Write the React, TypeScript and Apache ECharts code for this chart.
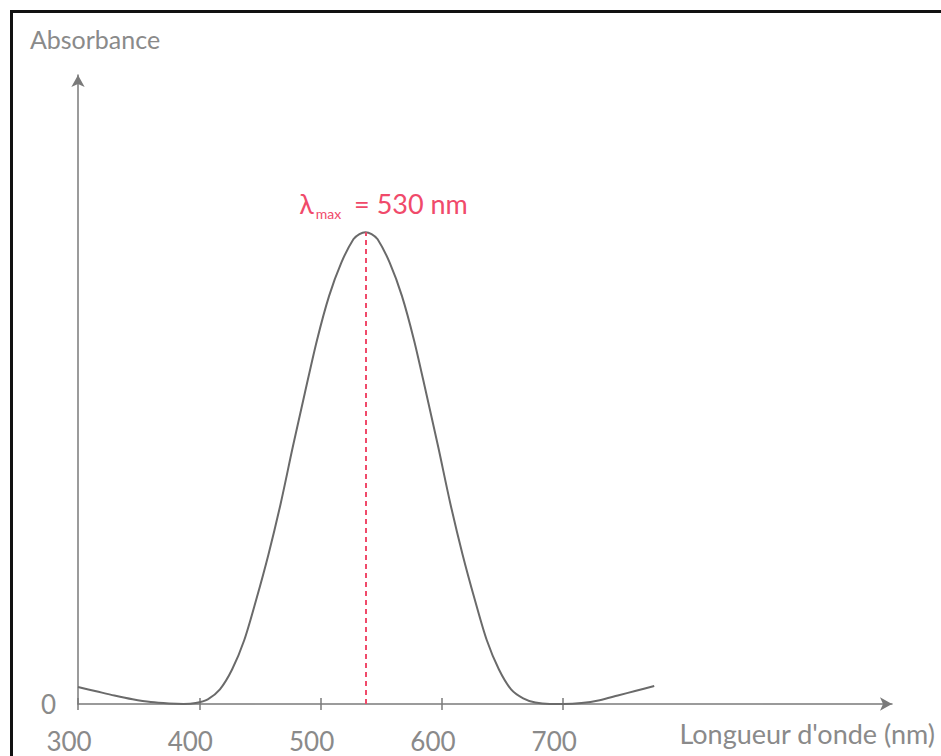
import React, { useEffect, useRef } from 'react';
import * as echarts from 'echarts';

// Wavelength (nm) and absorbance (arbitrary units, peak = 1)
const wavelengths = [
  300, 315, 330, 345, 360, 375, 387, 397, 407, 417, 427, 437, 447, 457, 467, 477, 487, 497,
  507, 517, 527, 532, 537, 542, 547, 557, 567, 577, 587, 597, 607, 617, 627, 637, 647, 657,
  667, 677, 689, 700, 715, 730, 745, 760, 775,
];
const absorbance = [
  0.036, 0.027, 0.018, 0.01, 0.004, 0.001, 0, 0.002, 0.01, 0.031, 0.073, 0.135, 0.222, 0.317,
  0.424, 0.544, 0.659, 0.771, 0.865, 0.935, 0.985, 0.996, 1.0, 0.996, 0.985, 0.935, 0.865,
  0.771, 0.659, 0.544, 0.424, 0.317, 0.222, 0.135, 0.073, 0.031, 0.012, 0.003, 0, 0, 0.002,
  0.008, 0.018, 0.028, 0.038,
];
const xTickValues = [300, 400, 500, 600, 700];
const yTickValues = [0];
const LAMBDA_MAX_LABEL = 530;
const X_NAME = "Longueur d'onde (nm)";
const Y_NAME = 'Absorbance';

export default function App() {
  const ref = useRef<HTMLDivElement>(null);

  useEffect(() => {
    if (!ref.current) return;
    const chart = echarts.init(ref.current, null, { renderer: 'svg' });

    const maxA = Math.max(...absorbance);
    const peakIdx = absorbance.indexOf(maxA);
    const peakX = wavelengths[peakIdx];

    const font = 'Lato, sans-serif';
    const textGray = '#8a8a8a';
    const axisGray = '#7a7a7a';
    const red = '#f04a6a';

    const axisLineStyle = { color: axisGray, width: 1.5 };

    chart.setOption({
      animation: false,
      backgroundColor: '#ffffff',
      grid: { left: 78, right: 49, top: 75, bottom: 52, containLabel: false },
      xAxis: [
        {
          type: 'value',
          min: 300,
          max: 971,
          position: 'bottom',
          axisLine: {
            show: true,
            onZero: false,
            lineStyle: axisLineStyle,
            symbol: ['none', 'arrow'],
            symbolSize: [10, 12],
          },
          axisTick: {
            show: true,
            inside: false,
            length: 6,
            customValues: xTickValues,
            lineStyle: axisLineStyle,
          },
          axisLabel: {
            customValues: xTickValues,
            margin: 24,
            fontFamily: font,
            fontSize: 26,
            color: textGray,
            padding: [0, 18, 0, 0],
          },
          splitLine: { show: false },
          name: X_NAME,
          nameLocation: 'end',
          nameGap: 43,
          nameTextStyle: {
            fontFamily: font,
            fontSize: 27,
            color: textGray,
            align: 'right',
            verticalAlign: 'top',
            padding: [16, 0, 0, 0],
          },
        },
        {
          type: 'value',
          min: 300,
          max: 971,
          position: 'bottom',
          axisLine: { show: false, onZero: false },
          axisTick: {
            show: true,
            inside: true,
            length: 6,
            customValues: xTickValues,
            lineStyle: axisLineStyle,
          },
          axisLabel: { show: false },
          splitLine: { show: false },
        },
      ],
      yAxis: {
        type: 'value',
        min: 0,
        max: 1.333,
        axisLine: {
          show: true,
          onZero: false,
          lineStyle: axisLineStyle,
          symbol: ['none', 'arrow'],
          symbolSize: [10, 12],
        },
        axisTick: { show: false },
        axisLabel: {
          customValues: yTickValues,
          margin: 22,
          fontFamily: font,
          fontSize: 26,
          color: textGray,
        },
        splitLine: { show: false },
        name: Y_NAME,
        nameLocation: 'end',
        nameGap: 24,
        nameTextStyle: {
          fontFamily: font,
          fontSize: 25,
          color: textGray,
          align: 'center',
          padding: [0, 0, 0, 34],
        },
      },
      graphic: [
        {
          type: 'rect',
          silent: true,
          z: -1,
          shape: { x: 11.5, y: 11.5, width: 1000, height: 1000 },
          style: { fill: 'none', stroke: '#111111', lineWidth: 3 },
        },
      ],
      series: [
        {
          type: 'line',
          xAxisIndex: 0,
          data: wavelengths.map((w, i) => [w, absorbance[i]]),
          showSymbol: false,
          smooth: 0.3,
          lineStyle: { color: '#6a6a6a', width: 2 },
          markLine: {
            silent: true,
            symbol: ['none', 'none'],
            lineStyle: { color: red, type: [5, 4], width: 2 },
            label: {
              show: true,
              position: 'end',
              distance: 12,
              padding: [0, 0, 0, 36],
              formatter: `{l|λ}{s|max}{t| = ${LAMBDA_MAX_LABEL} nm}`,
              rich: {
                l: { fontFamily: font, fontSize: 27, color: red },
                s: { fontFamily: font, fontSize: 14, color: red, padding: [20, 6, 0, 2] },
                t: { fontFamily: font, fontSize: 27, color: red },
              },
            },
            data: [[{ coord: [peakX, 0] }, { coord: [peakX, maxA] }]],
          },
        },
      ],
    });

    return () => chart.dispose();
  }, []);

  return (
    <div
      ref={ref}
      style={{ position: 'absolute', left: 0, top: 0, width: 941, height: 756 }}
    />
  );
}
